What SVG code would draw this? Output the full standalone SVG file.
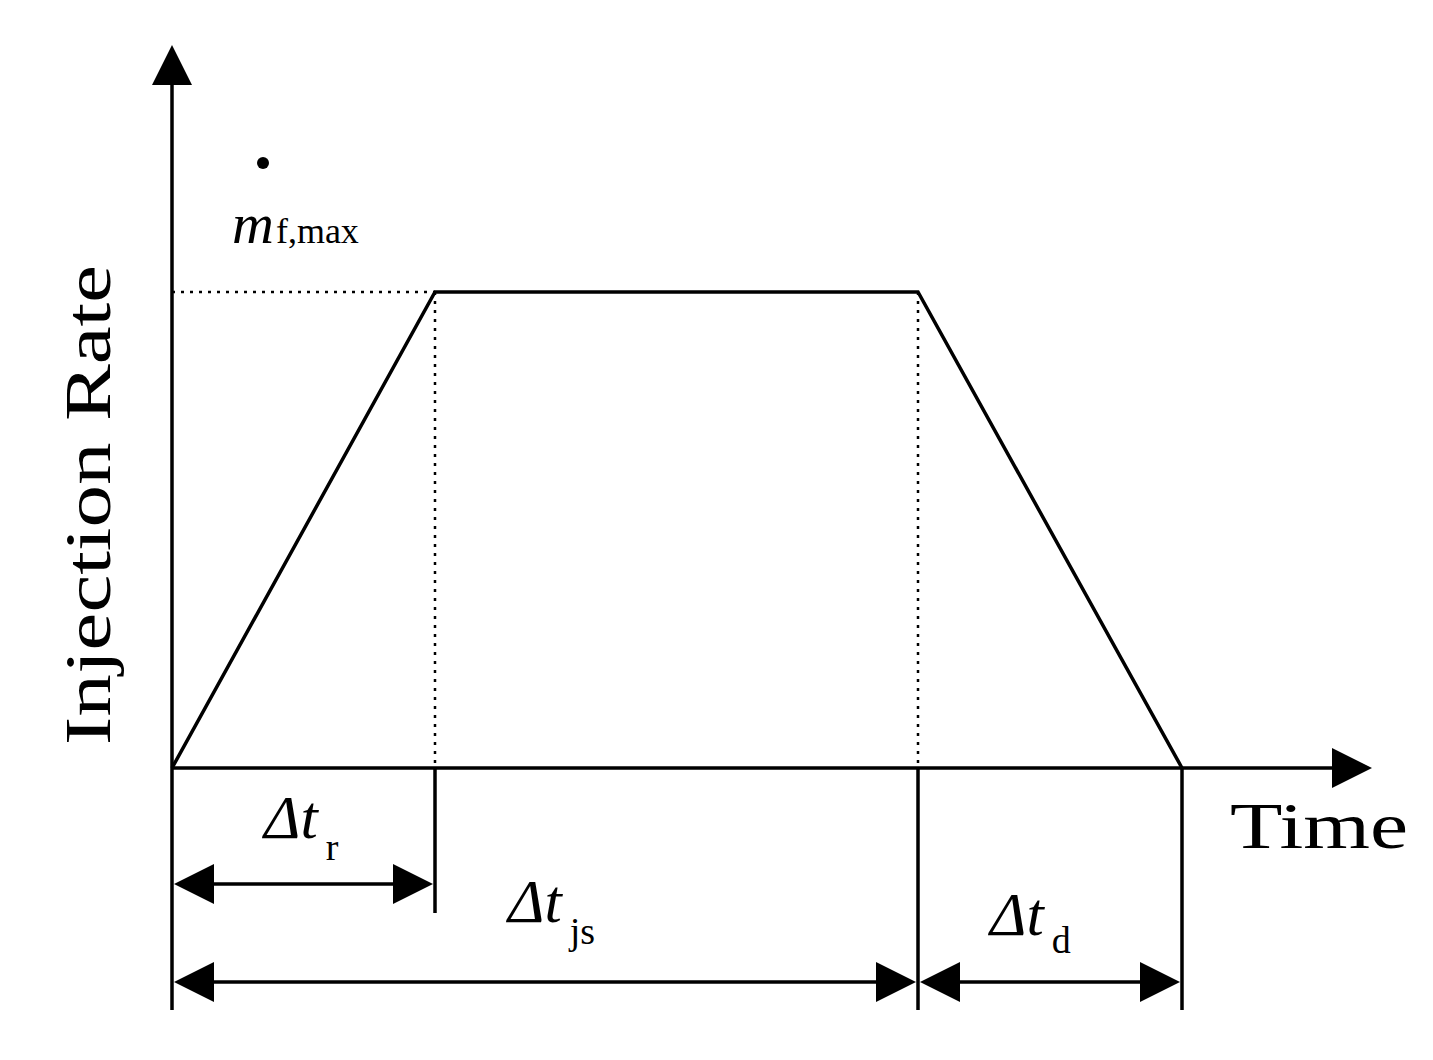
<svg xmlns="http://www.w3.org/2000/svg" width="1433" height="1060" viewBox="0 0 1433 1060">
<style>
.s{stroke:#000;stroke-width:3.5;fill:none}
.d{stroke:#000;stroke-width:2.5;fill:none;stroke-dasharray:3 6}
.t{font-family:"Liberation Serif",serif;fill:#000}
.i{font-style:italic}
</style>
<rect width="1433" height="1060" fill="#fff"/>
<g id="axes">
<line class="s" x1="172" y1="80" x2="172" y2="1010"/>
<line class="s" x1="172" y1="768" x2="1335" y2="768"/>
<polygon points="172,45 152,85 192,85"/>
<polygon points="1372,768 1332,748 1332,788"/>
<text class="t" transform="translate(110,505) rotate(-90)" text-anchor="middle" font-size="66" textLength="480" lengthAdjust="spacingAndGlyphs">Injection Rate</text>
<text class="t" x="1230" y="848" font-size="66" textLength="178" lengthAdjust="spacingAndGlyphs">Time</text>
</g>
<g id="curve">
<polyline class="s" points="172,768 435,292 918,292 1182,768"/>
<line class="d" x1="172" y1="292" x2="435" y2="292"/>
<line class="d" x1="435" y1="292" x2="435" y2="768"/>
<line class="d" x1="918" y1="292" x2="918" y2="768"/>
<circle cx="263" cy="163" r="6"/>
<text class="t" x="232" y="243" font-size="58"><tspan class="i">m</tspan><tspan font-size="36" dx="2">f,max</tspan></text>
</g>
<g id="connectors">
<line class="s" x1="435" y1="768" x2="435" y2="913"/>
<line class="s" x1="918" y1="768" x2="918" y2="1010"/>
<line class="s" x1="1182" y1="768" x2="1182" y2="1010"/>
<line class="s" x1="210" y1="884" x2="397" y2="884"/>
<polygon points="174,884 214,864 214,904"/>
<polygon points="433,884 393,864 393,904"/>
<line class="s" x1="210" y1="982" x2="880" y2="982"/>
<polygon points="174,982 214,962 214,1002"/>
<polygon points="916,982 876,962 876,1002"/>
<line class="s" x1="955" y1="982" x2="1145" y2="982"/>
<polygon points="920,982 960,962 960,1002"/>
<polygon points="1180,982 1140,962 1140,1002"/>
</g>
<g id="labels">
<text class="t i" x="264" y="838" font-size="62">Δt<tspan font-style="normal" font-size="38" dx="8" dy="22">r</tspan></text>
<text class="t i" x="508" y="922" font-size="62">Δt<tspan font-style="normal" font-size="38" dx="8" dy="22">js</tspan></text>
<text class="t i" x="990" y="935" font-size="62">Δt<tspan font-style="normal" font-size="38" dx="8" dy="18">d</tspan></text>
</g>
</svg>
